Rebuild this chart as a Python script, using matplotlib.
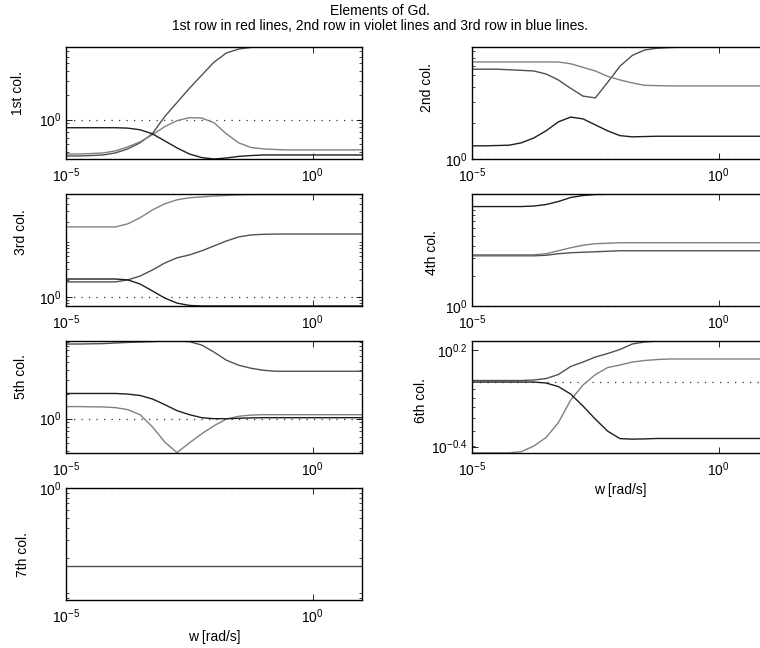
import numpy as np
import matplotlib
matplotlib.use('Agg')
import matplotlib.pyplot as plt
from matplotlib import ticker

plt.rcParams['font.family'] = ['Liberation Sans', 'DejaVu Sans']
plt.rcParams['mathtext.fontset'] = 'custom'
plt.rcParams['mathtext.rm'] = 'Liberation Sans'
plt.rcParams['mathtext.it'] = 'Liberation Sans:italic'
plt.rcParams['mathtext.bf'] = 'Liberation Sans:bold'

# --- DATA: |Gd(jw)| per element, in dB ---
W = np.logspace(-5, 1, 25)

COL1_R1 = [-9.0, -9.0, -8.9, -8.75, -8.25, -7.25, -5.75, -3.5, 0.75, 4.25, 7.75, 11.0, 14.25,
           16.5, 17.5, 17.9, 18.0, 18.0, 18.0, 18.0, 18.0, 18.0, 18.0, 18.0, 18.0]
COL1_R2 = [-8.5, -8.5, -8.4, -8.25, -7.75, -6.75, -5.5, -3.75, -1.75, -0.25, 0.5, 0.4, -0.75,
           -3.5, -5.75, -6.9, -7.25, -7.4, -7.5, -7.5, -7.5, -7.5, -7.5, -7.5, -7.5]
COL1_R3 = [-2.0, -2.0, -2.0, -2.0, -2.0, -2.1, -2.5, -3.5, -5.25, -7.0, -8.5, -9.4, -9.75,
           -9.5, -9.1, -8.9, -8.75, -8.75, -8.75, -8.75, -8.75, -8.75, -8.75, -8.75, -8.75]

COL2_R1 = [15.0, 15.0, 15.0, 14.9, 14.8, 14.7, 14.2, 13.2, 11.8, 10.5, 10.2, 12.8, 15.5,
           17.3, 18.2, 18.5, 18.6, 18.7, 18.7, 18.7, 18.7, 18.7, 18.7, 18.7, 18.7]
COL2_R2 = [16.2, 16.2, 16.2, 16.2, 16.2, 16.2, 16.2, 16.2, 15.9, 15.3, 14.7, 13.8, 13.2,
           12.7, 12.3, 12.25, 12.2, 12.2, 12.2, 12.2, 12.2, 12.2, 12.2, 12.2, 12.2]
COL2_R3 = [2.2, 2.2, 2.25, 2.3, 2.7, 3.5, 4.7, 6.2, 7.0, 6.7, 5.7, 4.7, 3.9,
           3.7, 3.75, 3.8, 3.8, 3.8, 3.8, 3.8, 3.8, 3.8, 3.8, 3.8, 3.8]

COL3_R1 = [5.2, 5.2, 5.2, 5.2, 5.2, 5.9, 7.2, 9.3, 11.7, 13.5, 14.5, 15.9, 17.6,
           19.3, 20.7, 21.4, 21.6, 21.7, 21.7, 21.7, 21.7, 21.7, 21.7, 21.7, 21.7]
COL3_R2 = [24.15, 24.15, 24.15, 24.15, 24.15, 25.2, 27.3, 30.0, 32.1, 33.5, 34.2, 34.5, 34.8,
           35.0, 35.2, 35.3, 35.3, 35.3, 35.3, 35.3, 35.3, 35.3, 35.3, 35.3, 35.3]
COL3_R3 = [6.2, 6.2, 6.2, 6.2, 6.2, 5.9, 4.5, 2.1, -0.35, -2.1, -2.9, -3.1, -3.1,
           -3.1, -3.1, -3.1, -3.1, -3.1, -3.1, -3.1, -3.1, -3.1, -3.1, -3.1, -3.1]

COL4_R1 = [10.0, 10.0, 10.0, 10.0, 10.0, 10.0, 10.1, 10.4, 10.6, 10.7, 10.8, 10.9, 11.0,
           11.0, 11.0, 11.0, 11.0, 11.0, 11.0, 11.0, 11.0, 11.0, 11.0, 11.0, 11.0]
COL4_R2 = [10.2, 10.2, 10.2, 10.2, 10.2, 10.2, 10.4, 11.0, 11.6, 12.1, 12.4, 12.5, 12.6,
           12.6, 12.6, 12.6, 12.6, 12.6, 12.6, 12.6, 12.6, 12.6, 12.6, 12.6, 12.6]
COL4_R3 = [19.8, 19.8, 19.8, 19.8, 19.8, 19.9, 20.2, 20.8, 21.6, 22.0, 22.2, 22.25, 22.3,
           22.3, 22.3, 22.3, 22.3, 22.3, 22.3, 22.3, 22.3, 22.3, 22.3, 22.3, 22.3]

COL5_R1 = [18.5, 18.5, 18.55, 18.6, 18.75, 18.9, 19.0, 19.1, 19.25, 19.25, 19.1, 18.25, 16.5,
           14.5, 13.25, 12.5, 12.0, 11.75, 11.75, 11.75, 11.75, 11.75, 11.75, 11.75, 11.75]
COL5_R2 = [3.0, 3.0, 2.95, 2.9, 2.75, 2.25, 1.0, -2.0, -5.75, -8.4, -6.0, -3.75, -1.75,
           -0.1, 0.6, 0.9, 1.0, 1.0, 1.0, 1.0, 1.0, 1.0, 1.0, 1.0, 1.0]
COL5_R3 = [6.25, 6.25, 6.25, 6.25, 6.25, 6.1, 5.75, 4.9, 3.5, 2.0, 1.0, 0.25, 0.0,
           0.0, 0.1, 0.2, 0.25, 0.25, 0.25, 0.25, 0.25, 0.25, 0.25, 0.25, 0.25]

COL6_R1 = [0.19, 0.19, 0.19, 0.19, 0.19, 0.25, 0.43, 0.93, 1.93, 2.48, 3.1, 3.54, 4.04,
           4.72, 4.97, 5.06, 5.09, 5.09, 5.09, 5.09, 5.09, 5.09, 5.09, 5.09, 5.09]
COL6_R2 = [-8.78, -8.78, -8.78, -8.78, -8.63, -7.95, -6.89, -5.04, -2.24, -0.37, 0.92, 1.8, 2.11,
           2.48, 2.67, 2.79, 2.86, 2.86, 2.86, 2.86, 2.86, 2.86, 2.86, 2.86, 2.86]
COL6_R3 = [0.0, 0.0, 0.0, 0.0, 0.0, 0.0, -0.12, -0.56, -1.49, -2.98, -4.6, -6.09, -7.02,
           -7.08, -7.05, -7.0, -7.0, -7.0, -7.0, -7.0, -7.0, -7.0, -7.0, -7.0, -7.0]

COL7_R1 = [-15.6, -15.6, -15.6, -15.6, -15.6, -15.6, -15.6, -15.6, -15.6, -15.6, -15.6, -15.6, -15.6,
           -15.6, -15.6, -15.6, -15.6, -15.6, -15.6, -15.6, -15.6, -15.6, -15.6, -15.6, -15.6]

YLIMS_DB = [(-9.75, 18.0), (0.0, 18.7), (-3.1, 35.5), (0.0, 22.3),
            (-8.5, 19.25), (-8.8, 5.09), (-22.4, 0.0)]
YTICK_EXP = [[0], [0], [0], [0], [0], [-0.4, 0.2], [0]]
YLABELS = ['1st col.', '2nd col.', '3rd col.', '4th col.', '5th col.', '6th col.', '7th col.']

# grey shades of the red / violet / blue row lines
RED = '#505050'
VIOLET = '#808080'
BLUE = '#1e1e1e'

panels = [
    [(COL1_R1, RED), (COL1_R2, VIOLET), (COL1_R3, BLUE)],
    [(COL2_R1, RED), (COL2_R2, VIOLET), (COL2_R3, BLUE)],
    [(COL3_R1, RED), (COL3_R2, VIOLET), (COL3_R3, BLUE)],
    [(COL4_R1, RED), (COL4_R2, VIOLET), (COL4_R3, BLUE)],
    [(COL5_R1, RED), (COL5_R2, VIOLET), (COL5_R3, BLUE)],
    [(COL6_R1, RED), (COL6_R2, VIOLET), (COL6_R3, BLUE)],
    [(COL7_R1, RED)],
]


def mag(db):
    return 10 ** (np.asarray(db, dtype=float) / 20.0)


def exp_label(e):
    return r'$\mathregular{10^{%g}}$' % e


# --- LAYOUT ---
COL_X = [66 / 760, 472 / 760]
ROW_Y = [1 - 159 / 648, 1 - 306 / 648, 1 - 453 / 648, 1 - 600 / 648]
AX_W = 296 / 760
AX_H = 112 / 648
YLABEL_POS = [(-0.137, 0.59), (-0.130, 0.64), (-0.127, 0.66), (-0.113, 0.48),
              (-0.130, 0.68), (-0.150, 0.47), (-0.120, 0.41)]

fig = plt.figure(figsize=(7.6, 6.48), dpi=100)

for k, lines in enumerate(panels):
    row, col = divmod(k, 2)
    ax = fig.add_axes([COL_X[col], ROW_Y[row], AX_W, AX_H])
    ax.set_xscale('log')
    ax.set_yscale('log')

    ax.axhline(1.0, color='#333333', lw=0.9, ls=(0, (1, 5)), zorder=1)
    for vals, color in lines:
        ax.plot(W, mag(vals), color=color, lw=1.0, zorder=2)

    ax.set_xlim(1e-5, 10)
    ax.set_ylim(mag(YLIMS_DB[k][0]), mag(YLIMS_DB[k][1]))

    ax.xaxis.set_major_locator(ticker.FixedLocator([1e-5, 1.0]))
    ax.xaxis.set_minor_locator(ticker.NullLocator())
    ax.set_xticklabels([exp_label(-5), exp_label(0)])

    ax.yaxis.set_major_locator(ticker.FixedLocator([10.0 ** e for e in YTICK_EXP[k]]))
    ax.yaxis.set_minor_locator(ticker.LogLocator(base=10, subs=np.arange(2, 10)))
    ax.yaxis.set_minor_formatter(ticker.NullFormatter())
    ax.set_yticklabels([exp_label(e) for e in YTICK_EXP[k]])

    ax.tick_params(which='both', direction='in', top=True, right=True, colors='black')
    ax.tick_params(which='major', length=4, width=0.6, labelsize=10)
    ax.tick_params(axis='x', which='major', pad=5)
    ax.tick_params(axis='y', which='major', pad=3)
    ax.tick_params(which='minor', length=2, width=0.5)
    for sp in ax.spines.values():
        sp.set_linewidth(1.0)

    ax.set_ylabel(YLABELS[k], fontsize=10)
    ax.yaxis.set_label_coords(*YLABEL_POS[k])

    if k in (5, 6):
        ax.set_xlabel('w [rad/s]', fontsize=10)
        ax.xaxis.set_label_coords(0.5, -0.27)

fig.text(0.5, 1 - 11 / 648, 'Elements of Gd.', ha='center', va='center', fontsize=10)
fig.text(0.5, 1 - 26 / 648,
         '1st row in red lines, 2nd row in violet lines and 3rd row in blue lines.',
         ha='center', va='center', fontsize=10)

fig.savefig('out.png', dpi=100)
